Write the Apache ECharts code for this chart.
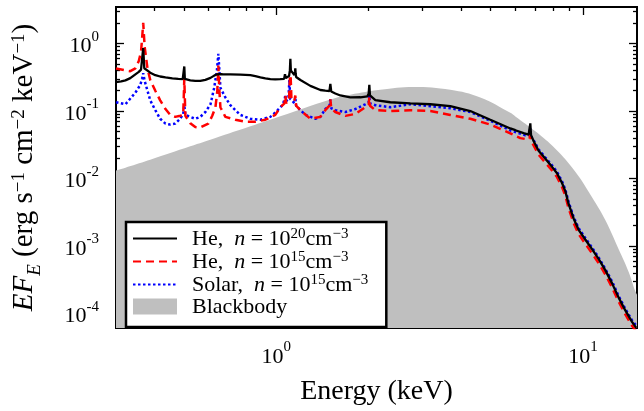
<!DOCTYPE html>
<html>
<head>
<meta charset="utf-8">
<script src="https://cdn.jsdelivr.net/npm/echarts@6/dist/echarts.min.js"></script>
<style>html,body{margin:0;padding:0;background:#fff}#c{width:644px;height:411px}</style>
</head>
<body>
<div id="c"></div>
<script>
// ---- data (energy keV, E*F_E) ----
const heHighPts = [[0.30,0.269],[0.312,0.275],[0.322,0.285],[0.334,0.307],[0.347,0.35],[0.356,0.38],[0.362,0.41],[0.365,0.43],[0.368,0.856],[0.371,0.43],[0.376,0.41],[0.388,0.37],[0.403,0.34],[0.418,0.325],[0.435,0.315],[0.458,0.305],[0.479,0.30],[0.495,0.297],[0.499,0.30],[0.501,0.457],[0.503,0.30],[0.507,0.295],[0.524,0.285],[0.544,0.28],[0.565,0.279],[0.587,0.29],[0.610,0.31],[0.627,0.335],[0.640,0.35],[0.647,0.37],[0.654,0.352],[0.667,0.351],[0.708,0.35],[0.763,0.347],[0.823,0.34],[0.854,0.33],[0.887,0.315],[0.921,0.305],[0.956,0.297],[0.992,0.295],[1.03,0.297],[1.06,0.30],[1.067,0.351],[1.074,0.31],[1.10,0.33],[1.107,0.40],[1.111,0.595],[1.115,0.40],[1.145,0.34],[1.150,0.38],[1.153,0.428],[1.156,0.36],[1.16,0.32],[1.198,0.288],[1.291,0.236],[1.392,0.205],[1.444,0.200],[1.49,0.198],[1.50,0.252],[1.51,0.195],[1.557,0.182],[1.617,0.170],[1.743,0.159],[1.88,0.16],[1.98,0.165],[2.0,0.18],[2.01,0.244],[2.02,0.17],[2.103,0.145],[2.353,0.135],[2.735,0.130],[3.178,0.126],[3.693,0.118],[4.291,0.100],[4.986,0.0743],[5.794,0.0552],[6.017,0.052],[6.40,0.047],[6.646,0.0448],[6.70,0.046],[6.733,0.0657],[6.77,0.044],[6.901,0.0359],[7.165,0.0258],[7.537,0.0196],[7.924,0.0149],[8.227,0.01195],[8.541,0.00859],[8.756,0.00651],[8.976,0.0042],[9.319,0.00256],[9.676,0.00174],[10.17,0.00125],[10.70,0.000897],[11.24,0.000645],[11.82,0.000439],[12.43,0.000282],[13.07,0.000172],[13.74,0.000111],[14.45,0.0000753],[14.92,0.0000611]];

const heLowPts = [[0.30,0.428],[0.322,0.40],[0.334,0.39],[0.347,0.43],[0.356,0.55],[0.362,0.75],[0.365,1.2],[0.368,2.02],[0.372,0.9],[0.380,0.428],[0.388,0.288],[0.403,0.2],[0.418,0.144],[0.435,0.107],[0.451,0.0876],[0.468,0.082],[0.486,0.085],[0.497,0.0876],[0.501,0.30],[0.505,0.085],[0.524,0.066],[0.544,0.058],[0.565,0.057],[0.600,0.0651],[0.618,0.085],[0.633,0.114],[0.642,0.2],[0.647,0.472],[0.652,0.2],[0.657,0.114],[0.682,0.082],[0.735,0.0743],[0.792,0.0695],[0.854,0.0695],[0.921,0.0743],[0.992,0.0876],[1.03,0.114],[1.063,0.13],[1.07,0.17],[1.077,0.13],[1.10,0.15],[1.111,0.428],[1.12,0.15],[1.145,0.14],[1.153,0.17],[1.16,0.12],[1.198,0.103],[1.291,0.0768],[1.392,0.082],[1.444,0.103],[1.49,0.12],[1.50,0.149],[1.51,0.11],[1.557,0.0968],[1.679,0.0848],[1.81,0.0906],[1.951,0.114],[2.0,0.125],[2.01,0.159],[2.02,0.12],[2.103,0.103],[2.353,0.1],[2.735,0.103],[3.178,0.1],[3.693,0.0876],[4.291,0.0768],[4.986,0.063],[5.794,0.0468],[6.246,0.0397],[6.60,0.038],[6.70,0.039],[6.733,0.0552],[6.77,0.036],[6.901,0.031],[7.165,0.0225],[7.537,0.0172],[7.924,0.0132],[8.227,0.0105],[8.541,0.0075],[8.756,0.0056],[8.976,0.0036],[9.319,0.0022],[9.676,0.0015],[10.17,0.00108],[10.70,0.00078],[11.24,0.00056],[11.82,0.00038],[12.43,0.000245],[13.07,0.00015],[13.74,0.000097],[14.45,0.000066],[14.92,0.000054]];

const solarPts = [[0.30,0.135],[0.322,0.126],[0.347,0.187],[0.360,0.244],[0.365,0.3],[0.368,0.363],[0.372,0.28],[0.380,0.2],[0.388,0.144],[0.403,0.103],[0.418,0.0768],[0.435,0.0651],[0.451,0.063],[0.468,0.0651],[0.486,0.0768],[0.497,0.0906],[0.501,0.122],[0.505,0.0876],[0.524,0.082],[0.544,0.0768],[0.565,0.082],[0.587,0.0968],[0.610,0.126],[0.627,0.221],[0.640,0.4],[0.647,0.702],[0.652,0.4],[0.657,0.221],[0.682,0.159],[0.708,0.122],[0.735,0.103],[0.763,0.0876],[0.823,0.0768],[0.887,0.0743],[0.956,0.082],[0.997,0.0968],[1.046,0.122],[1.065,0.15],[1.07,0.175],[1.075,0.14],[1.095,0.15],[1.103,0.288],[1.11,0.15],[1.13,0.14],[1.145,0.13],[1.153,0.159],[1.16,0.12],[1.198,0.103],[1.245,0.0876],[1.34,0.0768],[1.392,0.082],[1.444,0.107],[1.49,0.12],[1.50,0.149],[1.51,0.11],[1.557,0.103],[1.679,0.0968],[1.81,0.107],[1.951,0.126],[2.0,0.135],[2.01,0.17],[2.02,0.13],[2.103,0.122],[2.353,0.114],[2.735,0.126],[3.178,0.118],[3.693,0.11],[4.291,0.0968],[4.986,0.0719],[5.794,0.0516],[6.485,0.0438],[6.646,0.0438],[6.70,0.044],[6.733,0.0552],[6.77,0.042],[6.901,0.037],[7.165,0.027],[7.537,0.0205],[7.924,0.0157],[8.227,0.0126],[8.541,0.0091],[8.756,0.0069],[8.976,0.0045],[9.319,0.0027],[9.676,0.00184],[10.17,0.00132],[10.70,0.00095],[11.24,0.00068],[11.82,0.00046],[12.43,0.0003],[13.07,0.000182],[13.74,0.000117],[14.45,0.0000795],[14.92,0.000066]];

const blackbodyPts = [[0.30,0.0131],[0.388,0.019],[0.524,0.030],[0.633,0.0399],[0.823,0.0595],[1.03,0.0839],[1.50,0.1487],[1.743,0.175],[2.183,0.207],[2.797,0.228],[3.693,0.207],[4.625,0.159],[5.794,0.094],[6.017,0.083],[6.991,0.050],[8.124,0.0276],[9.438,0.0126],[10.70,0.00528],[11.82,0.00242],[13.07,0.000897],[14.09,0.000413],[14.81,0.000213],[15,0.00019]];

// ticks
const xMajorTicks = [1, 10];
const xMinorTicks = [0.4,0.5,0.6,0.7,0.8,0.9,2,3,4,5,6,7,8,9];
const yMajorTicks = [0.0001, 0.001, 0.01, 0.1, 1];
const yMinorTicks = [0.00007,0.00008,0.00009,0.0002,0.0003,0.0004,0.0005,0.0006,0.0007,0.0008,0.0009,0.002,0.003,0.004,0.005,0.006,0.007,0.008,0.009,0.02,0.03,0.04,0.05,0.06,0.07,0.08,0.09,0.2,0.3,0.4,0.5,0.6,0.7,0.8,0.9,2,3];
const xTickExp = ['0', '1'];
const yTickExp = ['-4', '-3', '-2', '-1', '0'];

const legendLabels = {
  heHigh: '{t|He,  }{it|n}{t| = 10}{sup|20}{t|cm}{sup|−3}',
  heLow: '{t|He,  }{it|n}{t| = 10}{sup|15}{t|cm}{sup|−3}',
  solar: '{t|Solar,  }{it|n}{t| = 10}{sup|15}{t|cm}{sup|−3}',
  bb: '{t|Blackbody}'
};

const FONT = 'Liberation Serif';
const X_MIN = 0.3, X_MAX = 15, Y_MIN = 6.1e-5, Y_MAX = 3.48;

function nearestIdx(arr, v) {
  let best = 0;
  arr.forEach((a, i) => { if (Math.abs(Math.log10(a) - Math.log10(v)) < Math.abs(Math.log10(arr[best]) - Math.log10(v))) best = i; });
  return best;
}
const tickRich = {
  b: { fontFamily: FONT, fontSize: 22, color: '#000', lineHeight: 28, verticalAlign: 'bottom' },
  sup: { fontFamily: FONT, fontSize: 15, color: '#000', lineHeight: 15, verticalAlign: 'top' }
};

function xAx(pos, ticks, len, labels) {
  return {
    type: 'log', logBase: 10, min: X_MIN, max: X_MAX, position: pos, gridIndex: 0,
    axisLine: { show: true, onZero: false, lineStyle: { color: '#000', width: 2 } },
    axisTick: { show: true, inside: true, length: len, customValues: ticks, lineStyle: { color: '#000', width: 1.3 } },
    axisLabel: labels ? {
      show: true, customValues: xMajorTicks, margin: 12,
      formatter: v => '{b|10}{sup|' + xTickExp[nearestIdx(xMajorTicks, v)] + '}',
      rich: tickRich
    } : { show: false },
    splitLine: { show: false }, minorTick: { show: false }, minorSplitLine: { show: false }
  };
}
function yAx(pos, ticks, len, labels) {
  return {
    type: 'log', logBase: 10, min: Y_MIN, max: Y_MAX, position: pos, gridIndex: 0,
    axisLine: { show: true, onZero: false, lineStyle: { color: '#000', width: 2 } },
    axisTick: { show: true, inside: true, length: len, customValues: ticks, lineStyle: { color: '#000', width: 1.3 } },
    axisLabel: labels ? {
      show: true, customValues: yMajorTicks, margin: 17,
      formatter: v => '{b|10}{sup|' + yTickExp[nearestIdx(yMajorTicks, v)] + '}',
      rich: tickRich
    } : { show: false },
    splitLine: { show: false }, minorTick: { show: false }, minorSplitLine: { show: false }
  };
}

const xAxes = [
  Object.assign(xAx('bottom', xMajorTicks, 8, true), {
    name: 'Energy (keV)', nameLocation: 'middle', nameGap: 50,
    nameTextStyle: { fontFamily: FONT, fontSize: 28, color: '#000' }
  }),
  xAx('bottom', xMinorTicks, 4, false),
  xAx('top', xMajorTicks, 8, false),
  xAx('top', xMinorTicks, 4, false)
];
const yAxes = [
  Object.assign(yAx('left', yMajorTicks, 8, true), {
    name: '{it|EF}{sub|E}{t| (erg s}{sup|−1}{t| cm}{sup|−2}{t| keV}{sup|−1}{t|)}',
    nameLocation: 'middle', nameGap: 72, nameRotate: 90,
    nameTextStyle: {
      rich: {
        it: { fontFamily: FONT, fontStyle: 'italic', fontSize: 29, color: '#000', lineHeight: 34, verticalAlign: 'top' },
        t: { fontFamily: FONT, fontSize: 29, color: '#000', lineHeight: 34, verticalAlign: 'top' },
        sup: { fontFamily: FONT, fontSize: 19, color: '#000', lineHeight: 19, verticalAlign: 'top' },
        sub: { fontFamily: FONT, fontStyle: 'italic', fontSize: 19, color: '#000', lineHeight: 19, verticalAlign: 'bottom' }
      }
    }
  }),
  yAx('left', yMinorTicks, 4, false),
  yAx('right', yMajorTicks, 8, false),
  yAx('right', yMinorTicks, 4, false)
];

const hideSym = { opacity: 0 };
const option = {
  animation: false,
  backgroundColor: '#fff',
  grid: { left: 116, top: 7, width: 521, height: 331, containLabel: false },
  legend: {
    orient: 'vertical', left: 126, top: 222,
    padding: [5, 18, 9, 6],
    backgroundColor: '#fff', borderColor: '#000', borderWidth: 2.5, borderRadius: 0,
    itemWidth: 44, itemHeight: 16, itemGap: 0,
    data: [
      { name: 'heHigh', itemStyle: hideSym },
      { name: 'heLow', itemStyle: hideSym },
      { name: 'solar', itemStyle: hideSym },
      { name: 'bb', icon: 'rect', itemStyle: { color: '#bfbfbf', opacity: 1 } }
    ],
    formatter: n => legendLabels[n],
    textStyle: {
      padding: [0, 0, 0, 10],
      rich: {
        t: { fontFamily: FONT, fontSize: 22, color: '#000', lineHeight: 23, verticalAlign: 'bottom' },
        it: { fontFamily: FONT, fontStyle: 'italic', fontSize: 22, color: '#000', lineHeight: 23, verticalAlign: 'bottom' },
        sup: { fontFamily: FONT, fontSize: 15, color: '#000', lineHeight: 14, verticalAlign: 'top' }
      }
    }
  },
  xAxis: xAxes,
  yAxis: yAxes,
  series: [
    { name: 'bb', type: 'line', data: blackbodyPts, symbol: 'none', smooth: 0.4, z: 1,
      lineStyle: { width: 0, color: '#bfbfbf' }, itemStyle: { color: '#bfbfbf' },
      areaStyle: { color: '#bfbfbf', opacity: 1, origin: 'start' } },
    { name: 'solar', type: 'line', data: solarPts, symbol: 'none', z: 3,
      lineStyle: { color: '#0000ff', width: 2.5, type: [2.5, 2.5] }, itemStyle: { color: '#0000ff' } },
    { name: 'heLow', type: 'line', data: heLowPts, symbol: 'none', z: 4,
      lineStyle: { color: '#ff0000', width: 2.5, type: [8, 5] }, itemStyle: { color: '#ff0000' } },
    { name: 'heHigh', type: 'line', data: heHighPts, symbol: 'none', z: 5,
      lineStyle: { color: '#000000', width: 2.3, type: 'solid' }, itemStyle: { color: '#000000' } }
  ]
};

const chart = echarts.init(document.getElementById('c'), null, { renderer: 'canvas' });
chart.setOption(option);
</script>
</body>
</html>
